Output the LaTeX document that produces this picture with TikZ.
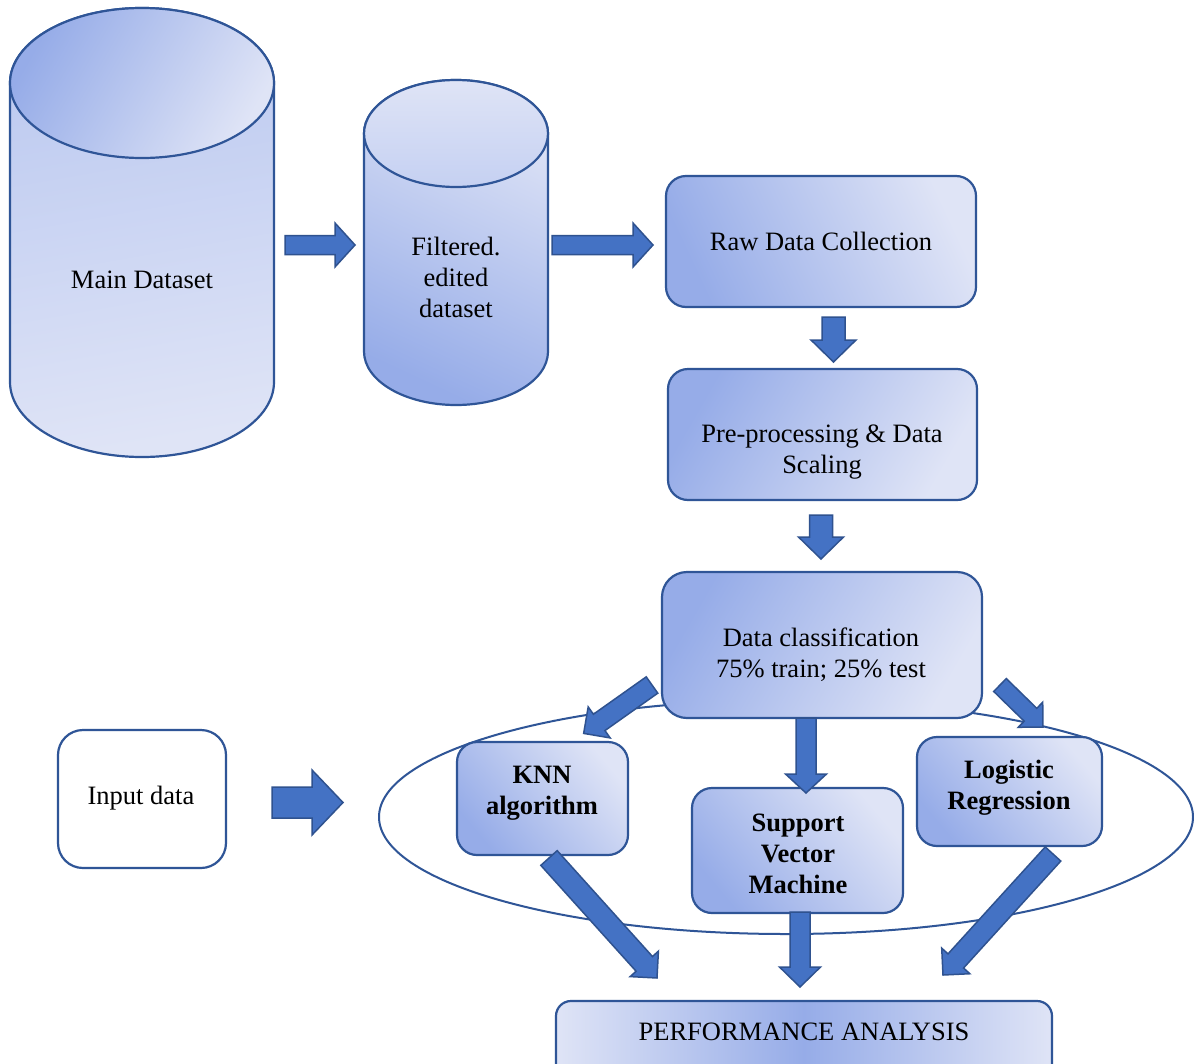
\documentclass[tikz,border=0pt]{standalone}
\usepackage{fontspec}
\setmainfont{Liberation Serif}
\usetikzlibrary{calc}
\definecolor{cdark}{RGB}{150,172,232}
\definecolor{cmid}{RGB}{186,200,240}
\definecolor{clight}{RGB}{223,228,246}
\definecolor{edgec}{RGB}{47,85,151}
\definecolor{afill}{RGB}{68,114,196}
\definecolor{aedge}{RGB}{47,82,143}
\newcommand\tfont{\fontsize{26.5pt}{31pt}\selectfont}
\newcommand\blockarrow[5]{%
  \pgfpointdiff{\pgfpointanchor{#1}{center}}{\pgfpointanchor{#2}{center}}%
  \pgfgetlastxy{\bax}{\bay}%
  \pgfmathsetmacro\baang{atan2(\bay,\bax)}%
  \pgfmathsetmacro\balen{veclen(\bax,\bay)}%
  \begin{scope}[shift={(#1)}, rotate=\baang]
    \draw[barrow] (0pt,-#3) -- ({\balen pt-#5},-#3) -- ({\balen pt-#5},-#4) -- (\balen pt,0pt)
      -- ({\balen pt-#5},#4) -- ({\balen pt-#5},#3) -- (0pt,#3) -- cycle;
  \end{scope}}
\begin{document}
\begin{tikzpicture}[x=1pt,y=-1pt,
  cyl/.style={draw=edgec, line width=2.2pt},
  box/.style={draw=edgec, line width=2.2pt, rounded corners=20pt, inner sep=0pt},
  txt/.style={align=center, font=\tfont, inner sep=0pt},
  btxt/.style={align=center, font=\tfont\bfseries, inner sep=0pt},
  barrow/.style={draw=aedge, fill=afill, line width=1.5pt, line join=miter}]
\clip (0,0) rectangle (1194,1063);
\fill[white] (0,0) rectangle (1194,1063);

% ellipse grouping the classifiers
\draw[edgec, line width=2pt] (786,817) ellipse [x radius=407pt, y radius=117pt];

% Main dataset cylinder
\draw[cyl, top color=cmid, bottom color=clight, shading angle=10]
  (10,83) -- (10,382) arc[start angle=180, end angle=360, x radius=132pt, y radius=75pt]
  -- (274,83) arc[start angle=0, end angle=180, x radius=132pt, y radius=75pt] -- cycle;
\draw[cyl, top color=cdark, bottom color=clight, shading angle=60]
  (142,83) ellipse [x radius=132pt, y radius=75pt];
\node[txt] (main) at (142,279.5) {Main Dataset};

% Filtered cylinder
\draw[cyl, top color=clight, bottom color=cdark, shading angle=-25]
  (364,133.5) -- (364,351.5) arc[start angle=180, end angle=360, x radius=92pt, y radius=53.5pt]
  -- (548,133.5) arc[start angle=0, end angle=180, x radius=92pt, y radius=53.5pt] -- cycle;
\draw[cyl, top color=clight, bottom color=cmid!70!clight]
  (456,133.5) ellipse [x radius=92pt, y radius=53.5pt];
\node[txt] (filt) at (456,277.5) {Filtered.\\edited\\dataset};

% process boxes
\node[box, minimum width=310pt, minimum height=131pt, top color=clight, bottom color=cdark, shading angle=-65] (raw) at (821,241.5) {};
\node[txt] (rawt) at (821,241.5) {Raw Data Collection};

\node[box, minimum width=309pt, minimum height=131pt, top color=cdark, bottom color=clight, shading angle=60] (pre) at (822.5,434.5) {};
\node[txt] (pret) at (822,452) {Pre-processing \& Data\\Scaling};

\node[box, rounded corners=25pt, minimum width=320pt, minimum height=146pt, top color=cdark, bottom color=clight, shading angle=60] (cls) at (822,645) {};
\node[txt] (clst) at (821,654.5) {Data classification\\75\% train; 25\% test};

\node[box, minimum width=171pt, minimum height=113pt, top color=clight, bottom color=cdark, shading angle=-50] (knn) at (542.5,798.5) {};
\node[btxt] (knnt) at (542,793.5) {KNN\\algorithm};

\node[box, minimum width=211pt, minimum height=125pt, top color=clight, bottom color=cdark, shading angle=-50] (svm) at (797.5,850.5) {};
\node[btxt] (svmt) at (798,853.5) {Support\\Vector\\Machine};

\node[box, minimum width=185pt, minimum height=109pt, top color=clight, bottom color=cdark, shading angle=-50] (log) at (1009.5,791.5) {};
\node[btxt] (logt) at (1009,788) {Logistic\\Regression};

\node[box, rounded corners=25pt, fill=white, minimum width=168pt, minimum height=138pt] (inp) at (142,799) {};
\node[txt] (inpt) at (141,798) {Input data};

\node[box, rounded corners=15pt, minimum width=496pt, minimum height=100pt, left color=clight, right color=clight, middle color=cdark] (perf) at (804,1051) {};
\node[txt] (perft) at (804,1032) {PERFORMANCE ANALYSIS};

% arrow end points
\coordinate (a1s) at (285,245);   \coordinate (a1e) at (355,245);
\coordinate (a2s) at (552,245);   \coordinate (a2e) at (653,245);
\coordinate (a3s) at (833.5,317); \coordinate (a3e) at (833.5,362);
\coordinate (a4s) at (821,515);   \coordinate (a4e) at (821,559);
\coordinate (a5s) at (652,685);   \coordinate (a5e) at (583.5,733.5);
\coordinate (a6s) at (806,718);   \coordinate (a6e) at (806,793);
\coordinate (a7s) at (1000,685);  \coordinate (a7e) at (1043,727);
\coordinate (a8s) at (272,802.5); \coordinate (a8e) at (343,802.5);
\coordinate (a9s) at (549,858);   \coordinate (a9e) at (657,978);
\coordinate (a10s) at (800,912);  \coordinate (a10e) at (800,987);
\coordinate (a11s) at (1053,854); \coordinate (a11e) at (943,975);

\blockarrow{a1s}{a1e}{9.5pt}{22pt}{20pt}
\blockarrow{a2s}{a2e}{9.5pt}{22pt}{20pt}
\blockarrow{a3s}{a3e}{11.5pt}{22.5pt}{22pt}
\blockarrow{a4s}{a4e}{11.5pt}{22.5pt}{22pt}
\blockarrow{a5s}{a5e}{10pt}{19pt}{19pt}
\blockarrow{a6s}{a6e}{10pt}{20.5pt}{19pt}
\blockarrow{a7s}{a7e}{9pt}{17.5pt}{17.5pt}
\blockarrow{a8s}{a8e}{15.5pt}{32.5pt}{31pt}
\blockarrow{a9s}{a9e}{11pt}{19pt}{19pt}
\blockarrow{a10s}{a10e}{10pt}{20.5pt}{20pt}
\blockarrow{a11s}{a11e}{10.5pt}{19pt}{19pt}
\end{tikzpicture}
\end{document}
